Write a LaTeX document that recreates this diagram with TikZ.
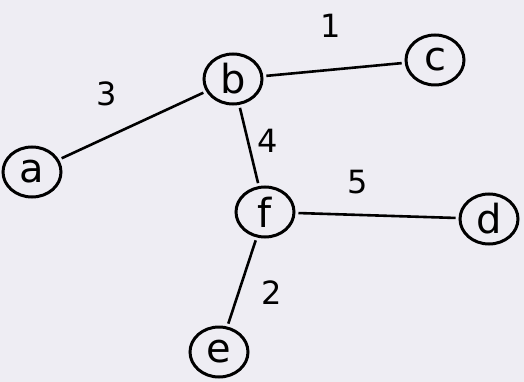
\documentclass[tikz,border=0pt]{standalone}
\usepackage{fontspec}
\setmainfont{DejaVu Sans}
\usetikzlibrary{shapes.geometric}
\definecolor{paper}{RGB}{238,237,243}

\begin{document}
\begin{tikzpicture}[
  x=1pt, y=-1pt,
  font=\fontsize{40}{44}\selectfont,
  vtx/.style={draw, ellipse, line width=3pt, inner sep=0pt, minimum width=58pt, minimum height=50pt},
  edge/.style={line width=2.6pt, shorten <=3pt, shorten >=3pt},
  wt/.style={font=\fontsize{32}{36}\selectfont, inner sep=1pt}
]
\fill[paper] (0,0) rectangle (524,382);
\useasboundingbox (0,0) rectangle (524,382);

% vertices
\node[vtx] (a) at (32,172)  {a};
\node[vtx] (b) at (233,79)  {b};
\node[vtx] (c) at (435,60)  {c};
\node[vtx] (f) at (265,212) {f};
\node[vtx] (d) at (489,219) {d};
\node[vtx] (e) at (219,352) {e};

% edges with weights
\draw[edge] (a) -- (b);
\draw[edge] (b) -- (c);
\draw[edge] (b) -- (f);
\draw[edge] (f) -- (d);
\draw[edge] (f) -- (e);

\node[wt] (w1) at (331,26)  {1};
\node[wt] (w3) at (107,94)  {3};
\node[wt] (w4) at (268,141) {4};
\node[wt] (w5) at (358,182) {5};
\node[wt] (w2) at (272,293) {2};
\end{tikzpicture}
\end{document}
